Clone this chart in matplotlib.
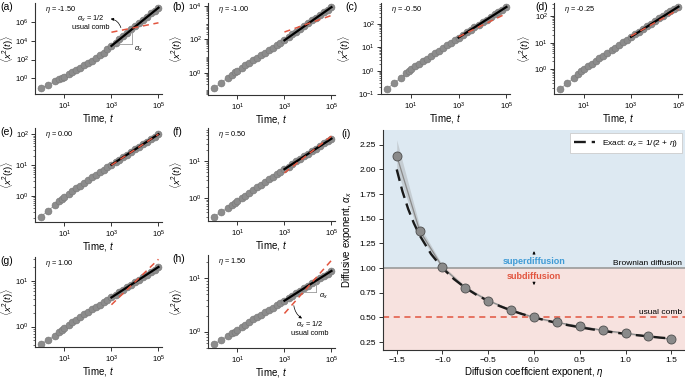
import matplotlib
matplotlib.use('Agg')
import matplotlib.pyplot as plt
from matplotlib.ticker import FixedLocator, NullLocator

plt.rcParams['font.family'] = ['Liberation Sans', 'DejaVu Sans']
plt.rcParams['mathtext.fontset'] = 'custom'
plt.rcParams['mathtext.rm'] = 'Liberation Sans'
plt.rcParams['mathtext.it'] = 'Liberation Sans:italic'
plt.rcParams['mathtext.bf'] = 'Liberation Sans:bold'
plt.rcParams['axes.linewidth'] = 0.8
plt.rcParams['axes.edgecolor'] = '#333333'
plt.rcParams['xtick.color'] = '#333333'
plt.rcParams['ytick.color'] = '#333333'
plt.rcParams['xtick.labelcolor'] = 'black'
plt.rcParams['ytick.labelcolor'] = 'black'
plt.rcParams['xtick.major.width'] = 0.7
plt.rcParams['ytick.major.width'] = 0.7
plt.rcParams['ytick.minor.width'] = 0.5
plt.rcParams['xtick.major.size'] = 3
plt.rcParams['ytick.major.size'] = 3
plt.rcParams['ytick.minor.size'] = 1.6

# ---------------- data ----------------
# times sampled in every small panel
t_vals = [1, 2, 4, 6, 8, 10, 15, 22, 32, 46, 68, 100, 150, 220, 320, 460, 680,
          1000, 1500, 2200, 3200, 4600, 6800, 10000, 15000, 22000, 32000,
          46000, 68000, 100000]

# log10 <x^2(t)> (a)-(h)
log_msd_a = [-1.05, -0.7, -0.3, -0.1, 0.05, 0.2, 0.45, 0.7, 0.9, 1.15, 1.4, 1.65,
             1.9, 2.15, 2.45, 2.75, 3.1, 3.45, 3.8, 4.15, 4.5, 4.85, 5.2, 5.55,
             5.9, 6.25, 6.55, 6.9, 7.2, 7.5]
log_msd_b = [-0.95, -0.62, -0.3, -0.12, 0.02, 0.12, 0.3, 0.45, 0.6, 0.75, 0.9, 1.05,
             1.2, 1.35, 1.5, 1.65, 1.8, 1.95, 2.13, 2.3, 2.47, 2.63, 2.8, 2.97,
             3.15, 3.32, 3.48, 3.64, 3.8, 3.95]
log_msd_c = [-0.8, -0.52, -0.3, -0.12, -0.02, 0.07, 0.19, 0.3, 0.41, 0.52, 0.63, 0.74,
             0.86, 0.98, 1.09, 1.2, 1.31, 1.42, 1.53, 1.64, 1.75, 1.86, 1.97, 2.08,
             2.19, 2.3, 2.41, 2.51, 2.62, 2.73]
log_msd_d = [-0.76, -0.54, -0.32, -0.17, -0.08, 0.0, 0.11, 0.21, 0.31, 0.41, 0.51, 0.61,
             0.71, 0.81, 0.92, 1.02, 1.12, 1.22, 1.32, 1.42, 1.52, 1.62, 1.72, 1.82,
             1.92, 2.02, 2.11, 2.2, 2.28, 2.36]
log_msd_e = [-0.67, -0.48, -0.29, -0.17, -0.09, -0.03, 0.07, 0.16, 0.25, 0.34, 0.43, 0.52,
             0.61, 0.69, 0.77, 0.85, 0.93, 1.01, 1.1, 1.18, 1.26, 1.34, 1.42, 1.51,
             1.59, 1.67, 1.75, 1.83, 1.92, 2.0]
log_msd_f = [-0.52, -0.38, -0.27, -0.19, -0.13, -0.09, -0.01, 0.06, 0.14, 0.21, 0.29, 0.35,
             0.43, 0.5, 0.57, 0.64, 0.71, 0.78, 0.85, 0.92, 0.99, 1.06, 1.13, 1.2,
             1.27, 1.34, 1.41, 1.48, 1.55, 1.61]
log_msd_g = [-0.39, -0.29, -0.2, -0.13, -0.08, -0.04, 0.03, 0.09, 0.15, 0.21, 0.27, 0.32,
             0.38, 0.43, 0.48, 0.54, 0.59, 0.64, 0.7, 0.75, 0.81, 0.86, 0.92, 0.98,
             1.03, 1.09, 1.14, 1.2, 1.25, 1.31]
log_msd_h = [-0.24, -0.16, -0.08, -0.03, 0.0, 0.03, 0.08, 0.13, 0.18, 0.23, 0.28, 0.32,
             0.37, 0.41, 0.45, 0.5, 0.54, 0.58, 0.63, 0.67, 0.72, 0.77, 0.82, 0.86,
             0.91, 0.96, 1.0, 1.05, 1.09, 1.14]

# fitted power law (black) and usual comb slope 1/2 (red), log10 values at t = 1e3 and 1e5
fit_t = [1e3, 1e5]
fit_log = {'a': [3.45, 7.5], 'b': [1.95, 3.95], 'c': [1.42, 2.73], 'd': [1.22, 2.36],
           'e': [1.01, 2.0], 'f': [0.78, 1.61], 'g': [0.64, 1.31], 'h': [0.58, 1.14]}
comb_log = {'a': [4.9, 5.9], 'b': [2.45, 3.45], 'c': [1.45, 2.45], 'd': [1.25, 2.25],
            'e': [1.0, 2.0], 'f': [0.68, 1.68], 'g': [0.48, 1.48], 'h': [0.34, 1.34]}

eta_text = {'a': '-1.50', 'b': '-1.00', 'c': '-0.50', 'd': '-0.25',
            'e': '0.00', 'f': '0.50', 'g': '1.00', 'h': '1.50'}

# panel (i)
eta_pts = [-1.5, -1.25, -1.0, -0.75, -0.5, -0.25, 0.0, 0.25, 0.5, 0.75, 1.0, 1.25, 1.5]
alpha_pts = [2.14, 1.38, 1.01, 0.80, 0.67, 0.575, 0.50, 0.45, 0.41, 0.37, 0.34, 0.31, 0.28]
alpha_lo = [2.00, 1.33, 0.99, 0.79, 0.66, 0.565, 0.49, 0.44, 0.40, 0.36, 0.33, 0.30, 0.275]
alpha_hi = [2.30, 1.43, 1.03, 0.82, 0.685, 0.585, 0.515, 0.46, 0.42, 0.38, 0.35, 0.32, 0.29]
eta_exact = [-1.5, -1.4375, -1.375, -1.3125, -1.25, -1.125, -1.0, -0.875, -0.75, -0.625,
             -0.5, -0.375, -0.25, -0.125, 0.0, 0.125, 0.25, 0.375, 0.5, 0.625, 0.75,
             0.875, 1.0, 1.125, 1.25, 1.375, 1.5]
alpha_exact = [2.0, 1.778, 1.6, 1.455, 1.333, 1.143, 1.0, 0.889, 0.8, 0.727, 0.667,
               0.615, 0.571, 0.533, 0.5, 0.471, 0.444, 0.421, 0.4, 0.381, 0.364,
               0.348, 0.333, 0.32, 0.308, 0.296, 0.286]

RED = '#e2553f'
GREY = '#8c8c8c'

W, H = 685, 379
fig = plt.figure(figsize=(W / 100, H / 100), dpi=100)


def px_axes(l, t, r, b):
    return fig.add_axes([l / W, 1 - b / H, (r - l) / W, (b - t) / H])


# (left, top, right, bottom) in pixels, y log limits, y ticks, data,
# panel label x, right edge of y label (pixels)
panels = {
    'a': ((35, 3, 162, 94), (-1.65, 8.0), [0, 2, 4, 6], log_msd_a, 0, 16),
    'b': ((208, 3, 335, 95), (-1.35, 4.2), [0, 2, 4], log_msd_b, 172, 185),
    'c': ((381, 3, 510, 94), (-1.0, 2.9), [-1, 0, 1, 2], log_msd_c, 345, 353),
    'd': ((554, 3, 682, 94), (-0.94, 2.5), [0, 1, 2], log_msd_d, 535, 533),
    'e': ((35, 128, 162, 222), (-0.84, 2.2), [0, 1, 2], log_msd_e, 0, 16),
    'f': ((208, 128, 335, 221), (-0.63, 1.9), [0, 1], log_msd_f, 172, 185),
    'g': ((35, 257, 162, 347), (-0.45, 1.53), [0, 1], log_msd_g, 0, 16),
    'h': ((208, 255, 335, 348), (-0.31, 1.44), [0, 1], log_msd_h, 172, 185),
}

axes = {}
for key, (box, ylog, yt, logm, lab_x, ylab_x) in panels.items():
    ax = px_axes(*box)
    axes[key] = ax
    msd = [10 ** v for v in logm]
    ax.plot(t_vals, msd, '-', color='#b0b0b0', lw=0.8, zorder=1)
    ax.plot(t_vals, msd, 'o', ms=5, mfc=GREY, mec='#777777', mew=0.4, zorder=2)
    ax.plot(fit_t, [10 ** v for v in fit_log[key]], '-', color='black', lw=1.6, zorder=3)
    ax.plot(fit_t, [10 ** v for v in comb_log[key]], '--', color=RED, lw=1.1,
            dashes=(4, 3), zorder=4)
    ax.set_xscale('log')
    ax.set_yscale('log')
    ax.set_xlim(10 ** -0.25, 10 ** 5.15)
    ax.set_ylim(10 ** ylog[0], 10 ** ylog[1])
    ax.xaxis.set_major_locator(FixedLocator([1e1, 1e3, 1e5]))
    ax.xaxis.set_minor_locator(NullLocator())
    ax.yaxis.set_major_locator(FixedLocator([10.0 ** k for k in yt]))
    ax.tick_params(labelsize=5.5, pad=1.5)
    ax.spines['top'].set_visible(False)
    ax.spines['right'].set_visible(False)
    ax.set_xlabel('Time, $t$', fontsize=7, labelpad=0.5)
    ax.set_ylabel(r'$\langle x^2(t)\rangle$', fontsize=6.8)
    ax.yaxis.set_label_coords((ylab_x - box[0]) / (box[2] - box[0]), 0.5)
    ax.text(0.08, 0.99, r'$\eta$ = ' + eta_text[key], transform=ax.transAxes,
            fontsize=5.3, va='top', ha='left')
    fig.text(lab_x / W, 1 - (box[1] + 4) / H, '(' + key + ')', fontsize=7.5,
             va='center', ha='left')

# annotations in (a)
ax = axes['a']
ax.plot([10 ** 3.1, 10 ** 3.89], [10 ** 3.6, 10 ** 3.6], color='#999999', lw=0.6)
ax.plot([10 ** 3.89, 10 ** 3.89], [10 ** 3.6, 10 ** 5.23], color='#999999', lw=0.6)
ax.text(10 ** 3.95, 10 ** 3.55, r'$\alpha_x$', fontsize=5.3, va='top', ha='left')
ax.text(10 ** 2.1, 10 ** 5.9, '$\\alpha_x$ = 1/2\nusual comb', fontsize=5.3,
        ha='center', va='center', linespacing=1.0)
ax.annotate('', xy=(10 ** 2.85, 10 ** 6.35), xytext=(10 ** 3.43, 10 ** 5.1),
            arrowprops=dict(arrowstyle='-|>', color='black', lw=0.5,
                            mutation_scale=4, connectionstyle='arc3,rad=0.4'))

# annotations in (h)
ax = axes['h']
ax.plot([10 ** 3.6, 10 ** 4.36], [10 ** 0.75, 10 ** 0.75], color='#999999', lw=0.6)
ax.plot([10 ** 4.36, 10 ** 4.36], [10 ** 0.75, 10 ** 0.96], color='#999999', lw=0.6)
ax.text(10 ** 4.45, 10 ** 0.74, r'$\alpha_x$', fontsize=5.3, va='top', ha='left')
ax.text(10 ** 4.07, 10 ** 0.06, '$\\alpha_x$ = 1/2\nusual comb', fontsize=5.3,
        ha='center', va='center', linespacing=1.0)
ax.annotate('', xy=(10 ** 3.85, 10 ** 0.22), xytext=(10 ** 3.39, 10 ** 0.54),
            arrowprops=dict(arrowstyle='-|>', color='black', lw=0.5,
                            mutation_scale=4, connectionstyle='arc3,rad=0.3'))

# ---------------- panel (i) ----------------
ax = px_axes(383, 130, 685, 350)
ax.set_xlim(-1.65, 1.65)
ax.set_ylim(0.17, 2.40)
ax.axhspan(1.0, 2.40, color='#dde9f2', lw=0, zorder=0)
ax.axhspan(0.17, 1.0, color='#f7e2df', lw=0, zorder=0)
ax.axhline(1.0, color='#9a9a9a', lw=1.2, zorder=1)
ax.axhline(0.5, color=RED, lw=1.1, ls='--', dashes=(4, 3), zorder=1)
ax.fill_between(eta_pts, alpha_lo, alpha_hi, color='#9a9a9a', alpha=0.35, lw=0, zorder=2)
ax.plot(eta_pts, alpha_pts, '-', color='#8a8a8a', lw=0.9, zorder=3)
ax.plot(eta_exact, alpha_exact, '--', color='#1a1a1a', lw=1.7, dashes=(5, 2.5),
        zorder=4, label=r'Exact: $\alpha_x$ = 1/(2 + $\eta$)')
ax.plot(eta_pts, alpha_pts, 'o', ms=6.5, mfc='#8a8a8a', mec='#4d4d4d', mew=0.6, zorder=5)

ax.text(0.0, 1.063, 'superdiffusion', color='#3f9bd6', fontsize=6.5,
        fontweight='bold', ha='center', va='center')
ax.text(0.0, 0.92, 'subdiffusion', color=RED, fontsize=6.5,
        fontweight='bold', ha='center', va='center')
ax.annotate('', xy=(0.0, 1.20), xytext=(0.0, 1.12),
            arrowprops=dict(arrowstyle='-|>', color='black', lw=0.5, mutation_scale=4))
ax.annotate('', xy=(0.0, 0.80), xytext=(0.0, 0.88),
            arrowprops=dict(arrowstyle='-|>', color='black', lw=0.5, mutation_scale=4))
ax.text(1.62, 1.047, 'Brownian diffusion', fontsize=6, ha='right', va='center')
ax.text(1.62, 0.546, 'usual comb', fontsize=6, ha='right', va='center')

ax.set_xticks([-1.5, -1.0, -0.5, 0.0, 0.5, 1.0, 1.5])
ax.set_xticklabels(['\u22121.5', '\u22121.0', '\u22120.5', '0.0', '0.5', '1.0', '1.5'])
ax.set_yticks([0.25, 0.50, 0.75, 1.00, 1.25, 1.50, 1.75, 2.00, 2.25])
ax.set_yticklabels(['0.25', '0.50', '0.75', '1.00', '1.25', '1.50', '1.75', '2.00', '2.25'])
ax.tick_params(labelsize=6, pad=2)
ax.spines['top'].set_visible(False)
ax.spines['right'].set_visible(False)
ax.set_xlabel(r'Diffusion coefficient exponent, $\eta$', fontsize=7, labelpad=1)
ax.set_ylabel(r'Diffusive exponent, $\alpha_x$', fontsize=7, labelpad=4)
leg = ax.legend(loc='upper right', fontsize=6, frameon=True, fancybox=False,
                edgecolor='#cccccc', framealpha=1, handlelength=2.5,
                borderaxespad=0.4, borderpad=0.5)
leg.get_frame().set_linewidth(0.6)
fig.text(341 / W, 1 - 134 / H, '(i)', fontsize=7.5, va='center', ha='left')

fig.savefig('out.png', dpi=100)
